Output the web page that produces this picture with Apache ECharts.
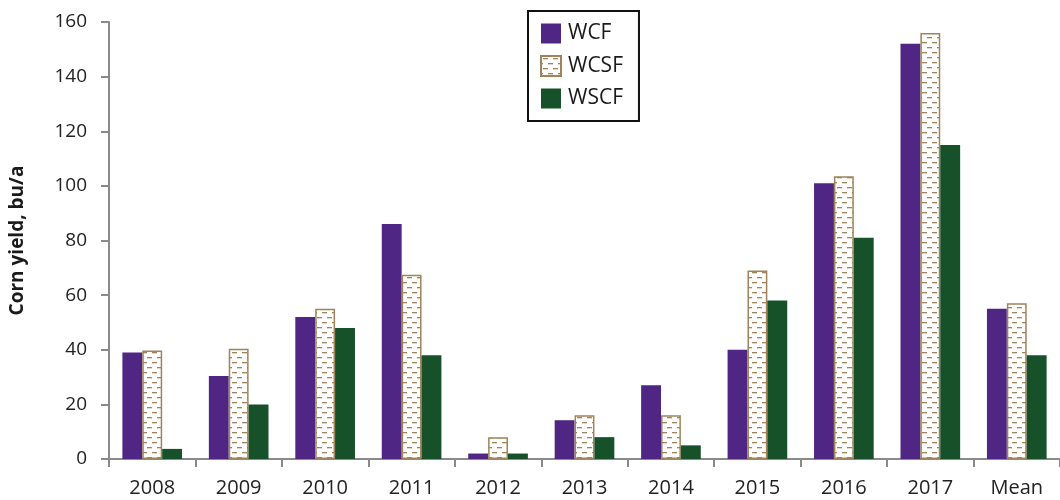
<!DOCTYPE html>
<html><head><meta charset="utf-8">
<script src="https://cdn.jsdelivr.net/npm/echarts@6/dist/echarts.min.js"></script>
<style>html,body{margin:0;padding:0;background:#fff}#c{width:1060px;height:500px}</style>
</head><body><div id="c"></div>
<script>
const categories = ['2008','2009','2010','2011','2012','2013','2014','2015','2016','2017','Mean'];
const wcf  = [39, 30.4, 52, 86, 2, 14.2, 27, 40, 101, 152, 55];
const wcsf = [39.7, 40.4, 55, 67.5, 8, 16, 16, 69, 103.5, 156, 57];
const wscf = [3.7, 20, 48, 38, 2, 8, 5, 58, 81, 115, 38];
const yTicks = [0, 20, 40, 60, 80, 100, 120, 140, 160];

const FONT = '"Open Sans", "Noto Sans", sans-serif';

// dash pattern for WCSF
const pc = document.createElement('canvas');
pc.width = 10; pc.height = 10;
const g = pc.getContext('2d');
g.fillStyle = '#ffffff'; g.fillRect(0,0,10,10);
g.fillStyle = '#a0835a';
g.fillRect(2, 2, 5, 1.3);
g.fillRect(7, 7, 3, 1.3);
g.fillRect(0, 7, 2, 1.3);

const chart = echarts.init(document.getElementById('c'), null, {renderer:'canvas'});
chart.setOption({
  animation: false,
  textStyle: {fontFamily: FONT},
  grid: {left: 105, right: 0, top: 22, bottom: 41, containLabel: false},
  legend: {
    orient: 'vertical', left: 528, top: 11,
    icon: 'rect',
    itemWidth: 20, itemHeight: 20, itemGap: 11,
    padding: [12, 16, 12, 12],
    borderColor: '#111', borderWidth: 2,
    textStyle: {fontFamily: FONT, fontSize: 21, color: '#1a1a1a', padding: [0,0,0,2]},
    data: ['WCF','WCSF','WSCF']
  },
  xAxis: {
    type: 'category', data: categories,
    axisLine: {lineStyle: {color: '#8a8a8a', width: 2}},
    axisTick: {show: true, length: 8, lineStyle: {color: '#8a8a8a', width: 2}},
    axisLabel: {fontFamily: FONT, fontSize: 20, color: '#222', margin: 19}
  },
  yAxis: {
    type: 'value', min: yTicks[0], max: yTicks[yTicks.length-1], interval: 20,
    name: 'Corn yield, bu/a', nameLocation: 'middle', nameGap: 82,
    nameTextStyle: {fontFamily: FONT, fontSize: 19, fontWeight: 'bold', color: '#1a1a1a'},
    axisLine: {show: true, lineStyle: {color: '#8a8a8a', width: 2}},
    axisTick: {show: true, length: 8, lineStyle: {color: '#8a8a8a', width: 2}},
    axisLabel: {fontFamily: FONT, fontSize: 19, color: '#222', margin: 22},
    splitLine: {show: false}
  },
  series: [
    {name: 'WCF', type: 'bar', data: wcf, barGap: '0%', barCategoryGap: '31%',
     itemStyle: {color: '#4f2683'}},
    {name: 'WCSF', type: 'bar', data: wcsf,
     itemStyle: {color: {image: pc, repetition: 'repeat'}, borderColor: '#a0835a', borderWidth: 1.5}},
    {name: 'WSCF', type: 'bar', data: wscf,
     itemStyle: {color: '#175129'}}
  ]
});
</script></body></html>
